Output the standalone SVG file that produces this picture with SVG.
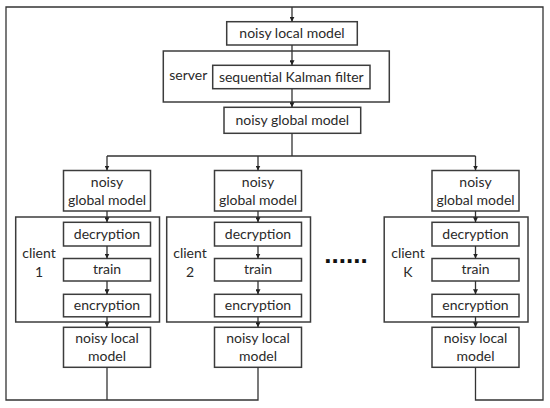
<svg xmlns="http://www.w3.org/2000/svg" width="550" height="408" viewBox="0 0 550 408">
<style>
.box{fill:#fff;stroke:#3c3c3c;stroke-width:1.5}
.t{font-family:Lato,"Liberation Sans",Arial,sans-serif;font-size:14px;fill:#2a2a2a;text-anchor:middle}
.c{fill:none;stroke:#333;stroke-width:1.3}
.a{marker-end:url(#arr)}
</style>
<defs>
<marker id="arr" markerUnits="userSpaceOnUse" markerWidth="5" markerHeight="5" refX="5" refY="2.5" orient="auto">
<path d="M0,0 L5,2.5 L0,5 z" fill="#222"/>
</marker>
</defs>
<rect width="550" height="408" fill="#fff"/>

<g id="server-local">
<rect class="box" x="226.7" y="21.7" width="130.6" height="23.3"/>
<text class="t" x="292" y="38.3">noisy local model</text>
</g>
<g id="server">
<rect class="box" x="163.3" y="51" width="226" height="51"/>
<text class="t" x="188.3" y="80">server</text>
</g>
<g id="kalman">
<rect class="box" x="212.7" y="65.3" width="157.3" height="23.4"/>
<text class="t" x="291.3" y="82">sequential Kalman filter</text>
</g>
<g id="server-global">
<rect class="box" x="224" y="107.3" width="136.7" height="26"/>
<text class="t" x="292.3" y="125.3">noisy global model</text>
</g>

<g id="client1">
<rect class="box" x="15.7" y="217" width="143.8" height="105"/>
<text class="t" x="39" y="257.7">client</text>
<text class="t" x="39" y="276.7">1</text>
</g>
<g id="c1-global">
<rect class="box" x="63.5" y="170.5" width="87" height="40.5"/>
<text class="t" x="107" y="186.7">noisy</text>
<text class="t" x="107" y="205">global model</text>
</g>
<g id="c1-dec"><rect class="box" x="63.5" y="222.3" width="87" height="23.7"/><text class="t" x="107" y="238.5">decryption</text></g>
<g id="c1-train"><rect class="box" x="63.5" y="258.5" width="87" height="22.5"/><text class="t" x="107" y="274.3">train</text></g>
<g id="c1-enc"><rect class="box" x="63.5" y="294.3" width="87" height="22.5"/><text class="t" x="107" y="310">encryption</text></g>
<g id="c1-local">
<rect class="box" x="63.5" y="327.3" width="87" height="40"/>
<text class="t" x="107" y="343.3">noisy local</text>
<text class="t" x="107" y="361">model</text>
</g>

<g id="client2">
<rect class="box" x="166.7" y="217" width="143.8" height="105"/>
<text class="t" x="190" y="257.7">client</text>
<text class="t" x="190" y="276.7">2</text>
</g>
<g id="c2-global">
<rect class="box" x="214.5" y="170.5" width="87" height="40.5"/>
<text class="t" x="258" y="186.7">noisy</text>
<text class="t" x="258" y="205">global model</text>
</g>
<g id="c2-dec"><rect class="box" x="214.5" y="222.3" width="87" height="23.7"/><text class="t" x="258" y="238.5">decryption</text></g>
<g id="c2-train"><rect class="box" x="214.5" y="258.5" width="87" height="22.5"/><text class="t" x="258" y="274.3">train</text></g>
<g id="c2-enc"><rect class="box" x="214.5" y="294.3" width="87" height="22.5"/><text class="t" x="258" y="310">encryption</text></g>
<g id="c2-local">
<rect class="box" x="214.5" y="327.3" width="87" height="40"/>
<text class="t" x="258" y="343.3">noisy local</text>
<text class="t" x="258" y="361">model</text>
</g>

<g id="dots">
<text x="346" y="263" style="font-family:'Liberation Sans',Arial,sans-serif;font-size:26px;font-weight:bold;fill:#111;text-anchor:middle">......</text>
</g>

<g id="clientK">
<rect class="box" x="384.2" y="217" width="143.8" height="105"/>
<text class="t" x="408" y="257.7">client</text>
<text class="t" x="408" y="276.7">K</text>
</g>
<g id="cK-global">
<rect class="box" x="432" y="170.5" width="87" height="40.5"/>
<text class="t" x="475.5" y="186.7">noisy</text>
<text class="t" x="475.5" y="205">global model</text>
</g>
<g id="cK-dec"><rect class="box" x="432" y="222.3" width="87" height="23.7"/><text class="t" x="475.5" y="238.5">decryption</text></g>
<g id="cK-train"><rect class="box" x="432" y="258.5" width="87" height="22.5"/><text class="t" x="475.5" y="274.3">train</text></g>
<g id="cK-enc"><rect class="box" x="432" y="294.3" width="87" height="22.5"/><text class="t" x="475.5" y="310">encryption</text></g>
<g id="cK-local">
<rect class="box" x="432" y="327.3" width="87" height="40"/>
<text class="t" x="475.5" y="343.3">noisy local</text>
<text class="t" x="475.5" y="361">model</text>
</g>

<g id="connectors">
<path class="c" d="M258,367.3 V400 H6 V7 H543 V400 H475.5 V367.3"/>
<path class="c" d="M107,367.3 V400"/>
<path class="c a" d="M292,7 V21.7"/>
<path class="c a" d="M292,45 V65.3"/>
<path class="c a" d="M292,88.7 V107.3"/>
<path class="c" d="M292,133.3 V156 M107,156 H475.5"/>
<path class="c a" d="M107,156 V170.5"/>
<path class="c a" d="M258,156 V170.5"/>
<path class="c a" d="M475.5,156 V170.5"/>
<path class="c a" d="M107,211 V222.3"/>
<path class="c a" d="M107,246 V258.5"/>
<path class="c a" d="M107,281 V294.3"/>
<path class="c a" d="M107,316.8 V327.3"/>
<path class="c a" d="M258,211 V222.3"/>
<path class="c a" d="M258,246 V258.5"/>
<path class="c a" d="M258,281 V294.3"/>
<path class="c a" d="M258,316.8 V327.3"/>
<path class="c a" d="M475.5,211 V222.3"/>
<path class="c a" d="M475.5,246 V258.5"/>
<path class="c a" d="M475.5,281 V294.3"/>
<path class="c a" d="M475.5,316.8 V327.3"/>
</g>
</svg>
